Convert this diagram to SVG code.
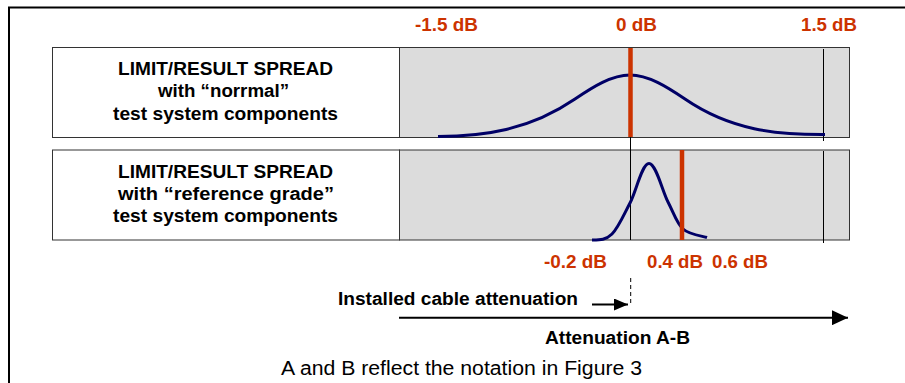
<svg xmlns="http://www.w3.org/2000/svg" width="905" height="383" viewBox="0 0 905 383">
<style>
.b{font-family:"Liberation Sans",Arial,sans-serif;font-weight:bold;font-size:18px;fill:#000}
.r{font-family:"Liberation Sans",Arial,sans-serif;font-weight:bold;font-size:18px;fill:#cc3300}
.n{font-family:"Liberation Sans",Arial,sans-serif;font-size:20px;fill:#000}
.box{fill:#fff;stroke:#333;stroke-width:1}
.gray{fill:#dcdcdc;stroke:#333;stroke-width:1}
.thin{stroke:#000;stroke-width:1;fill:none}
.red{stroke:#cc3300;stroke-width:4.5;fill:none}
.curve{stroke:#000066;stroke-width:3;fill:none;stroke-linecap:butt}
</style>
<defs>
<marker id="ahS" markerUnits="userSpaceOnUse" markerWidth="14" markerHeight="12" refX="14" refY="6" orient="auto"><path d="M0,0 L14,6 L0,12 z" fill="#000"/></marker>
<marker id="ahB" markerUnits="userSpaceOnUse" markerWidth="16" markerHeight="15" refX="16" refY="7.5" orient="auto"><path d="M0,0 L16,7.5 L0,15 z" fill="#000"/></marker>
</defs>
<rect x="9" y="7.5" width="1000" height="500" fill="#fff" stroke="#000" stroke-width="2"/>
<g id="scale-top">
<text class="r" x="415" y="31" textLength="63" lengthAdjust="spacingAndGlyphs">-1.5 dB</text>
<text class="r" x="616" y="31" textLength="41" lengthAdjust="spacingAndGlyphs">0 dB</text>
<text class="r" x="801" y="31" textLength="56" lengthAdjust="spacingAndGlyphs">1.5 dB</text>
</g>
<g id="row-normal">
<rect class="box" x="52.5" y="47.5" width="347" height="90"/>
<rect class="gray" x="399.5" y="47.5" width="450" height="90"/>
<text class="b" x="118" y="75" textLength="215" lengthAdjust="spacingAndGlyphs">LIMIT/RESULT SPREAD</text>
<text class="b" x="158" y="97" textLength="131" lengthAdjust="spacingAndGlyphs">with “norrmal”</text>
<text class="b" x="113" y="119.5" textLength="225" lengthAdjust="spacingAndGlyphs">test system components</text>
<line class="thin" x1="823.5" y1="49" x2="823.5" y2="141"/>
<path class="curve" d="M438,136.5 C483,136.3 529,130.5 575,99 C593.3,86.7 611.7,75 630,75 C648.3,75 666.7,86.7 685,99 C731,130.5 777,134.8 825,134.5"/>
<line class="red" x1="630.5" y1="48" x2="630.5" y2="137"/>
</g>
<g id="row-reference">
<rect class="box" x="52.5" y="150" width="347" height="90"/>
<rect class="gray" x="399.5" y="150" width="450" height="90"/>
<text class="b" x="118" y="178" textLength="215" lengthAdjust="spacingAndGlyphs">LIMIT/RESULT SPREAD</text>
<text class="b" x="118" y="200" textLength="216" lengthAdjust="spacingAndGlyphs">with “reference grade”</text>
<text class="b" x="113" y="222" textLength="225" lengthAdjust="spacingAndGlyphs">test system components</text>
<line class="thin" x1="823.5" y1="151" x2="823.5" y2="243"/>
<line class="thin" x1="630.5" y1="137" x2="630.5" y2="240"/>
<path class="curve" d="M592,240 C600,240 605.7,240.2 612,234 C618.3,227.8 623.8,214.75 630,203 C636.2,191.25 642,163.5 649,163.5 C656,163.5 662.3,191.1 668,202 C673.7,212.9 676.5,223.1 683,229 C689.5,234.9 703,236.1 707,237.5"/>
<line class="red" x1="682" y1="150" x2="682" y2="240"/>
</g>
<g id="scale-bottom">
<text class="r" x="544" y="267.5" textLength="63" lengthAdjust="spacingAndGlyphs">-0.2 dB</text>
<text class="r" x="647" y="267.5" textLength="56" lengthAdjust="spacingAndGlyphs">0.4 dB</text>
<text class="r" x="712" y="267.5" textLength="56" lengthAdjust="spacingAndGlyphs">0.6 dB</text>
</g>
<g id="connectors">
<line x1="630.7" y1="278" x2="630.7" y2="304" stroke="#000" stroke-width="1" stroke-dasharray="4,3"/>
<line x1="592" y1="304.5" x2="628" y2="304.5" stroke="#000" stroke-width="2" marker-end="url(#ahS)"/>
<line x1="399" y1="317.7" x2="848" y2="317.7" stroke="#000" stroke-width="2" marker-end="url(#ahB)"/>
</g>
<g id="labels">
<text class="b" x="338" y="305" textLength="240" lengthAdjust="spacingAndGlyphs">Installed cable attenuation</text>
<text class="b" x="545" y="344" textLength="145" lengthAdjust="spacingAndGlyphs">Attenuation A-B</text>
<text class="n" x="281" y="375" textLength="361" lengthAdjust="spacingAndGlyphs">A and B reflect the notation in Figure 3</text>
</g>
</svg>
